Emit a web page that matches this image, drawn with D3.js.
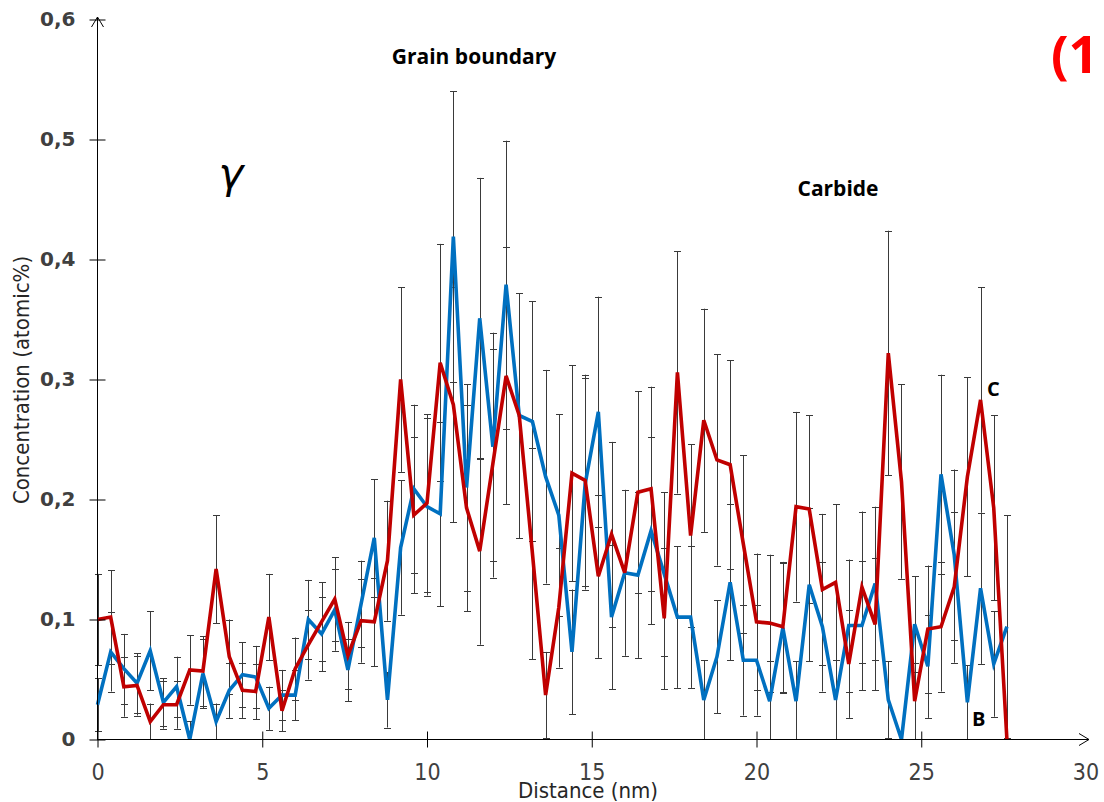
<!DOCTYPE html>
<html>
<head>
<meta charset="utf-8">
<script src="https://cdnjs.cloudflare.com/ajax/libs/d3/7.8.5/d3.min.js"></script>
<style>
  body { margin: 0; background: #fff; }
  svg { display: block; }
  .ytick text { font-family: 'DejaVu Sans', Verdana, sans-serif; font-weight: bold; font-size: 20px; fill: #404040; }
  .xtick text { font-family: 'Liberation Sans Narrow', 'DejaVu Sans Condensed', sans-serif; font-size: 23px; fill: #404040; }
  .title { font-family: 'Liberation Sans Narrow', 'DejaVu Sans Condensed', sans-serif; font-size: 22px; fill: #262626; }
  .note { font-family: 'Open Sans', 'DejaVu Sans', sans-serif; font-weight: bold; fill: #000; }
</style>
</head>
<body>
<svg id="chart" width="1104" height="802"></svg>
<script>
// distance (nm), one point every 0.4 nm
const distance = [
  0, 0.4, 0.8, 1.2, 1.6, 2, 2.4, 2.8, 3.2, 3.6, 4, 4.4, 4.8, 5.2, 5.6, 6, 6.4, 6.8, 7.2, 7.6,
  8, 8.4, 8.8, 9.2, 9.6, 10, 10.4, 10.8, 11.2, 11.6, 12, 12.4, 12.8, 13.2, 13.6, 14, 14.4, 14.8, 15.2, 15.6,
  16, 16.4, 16.8, 17.2, 17.6, 18, 18.4, 18.8, 19.2, 19.6, 20, 20.4, 20.8, 21.2, 21.6, 22, 22.4, 22.8, 23.2, 23.6,
  24, 24.4, 24.8, 25.2, 25.6, 26, 26.4, 26.8, 27.2, 27.6
];

// C (red)
const carbon = [
  0.100, 0.102, 0.044, 0.045, 0.015, 0.029, 0.029, 0.058, 0.057, 0.142, 0.069, 0.041, 0.040, 0.102, 0.024, 0.059, 0.079, 0.098, 0.117, 0.070,
  0.099, 0.098, 0.149, 0.300, 0.187, 0.197, 0.314, 0.279, 0.193, 0.157, 0.230, 0.303, 0.270, 0.155, 0.037, 0.110, 0.222, 0.216, 0.136, 0.171,
  0.139, 0.206, 0.209, 0.101, 0.306, 0.170, 0.266, 0.233, 0.229, 0.163, 0.098, 0.097, 0.094, 0.194, 0.192, 0.125, 0.131, 0.063, 0.127, 0.096,
  0.322, 0.215, 0.032, 0.092, 0.094, 0.127, 0.219, 0.283, 0.193, 0
];
const carbonErr = [
  0.038, 0.039, 0.025, 0.025, 0.015, 0.020, 0.020, 0.029, 0.029, 0.045, 0.031, 0.023, 0.023, 0.036, 0.017, 0.026, 0.029, 0.033, 0.035, 0.028,
  0.035, 0.037, 0.050, 0.077, 0.065, 0.074, 0.099, 0.098, 0.086, 0.078, 0.095, 0.107, 0.102, 0.088, 0.036, 0.050, 0.090, 0.088, 0.068, 0.077,
  0.069, 0.084, 0.085, 0.059, 0.101, 0.076, 0.093, 0.088, 0.087, 0.074, 0.057, 0.057, 0.054, 0.079, 0.078, 0.063, 0.065, 0.045, 0.063, 0.055,
  0.102, 0.081, 0.032, 0.053, 0.054, 0.063, 0.083, 0.094, 0.077, 0
];

// B (blue)
const boron = [
  0.029, 0.073, 0.059, 0.047, 0.074, 0.031, 0.044, 0.000, 0.055, 0.015, 0.041, 0.054, 0.052, 0.026, 0.037, 0.037, 0.100, 0.088, 0.108, 0.058,
  0.113, 0.168, 0.033, 0.160, 0.209, 0.194, 0.188, 0.419, 0.210, 0.351, 0.244, 0.379, 0.270, 0.265, 0.219, 0.187, 0.073, 0.213, 0.273, 0.102,
  0.139, 0.137, 0.174, 0.138, 0.102, 0.102, 0.033, 0.069, 0.131, 0.066, 0.066, 0.032, 0.093, 0.032, 0.129, 0.094, 0.033, 0.095, 0.095, 0.130,
  0.033, 0.000, 0.096, 0.061, 0.221, 0.154, 0.031, 0.126, 0.063, 0.094
];
const boronErr = [
  0.022, 0.033, 0.029, 0.025, 0.033, 0.020, 0.025, 0.015, 0.029, 0.015, 0.023, 0.027, 0.026, 0.018, 0.021, 0.021, 0.033, 0.031, 0.034, 0.026,
  0.036, 0.049, 0.023, 0.056, 0.070, 0.074, 0.077, 0.121, 0.086, 0.117, 0.095, 0.120, 0.102, 0.100, 0.089, 0.084, 0.052, 0.088, 0.096, 0.060,
  0.069, 0.069, 0.078, 0.068, 0.059, 0.059, 0.033, 0.047, 0.065, 0.046, 0.046, 0.033, 0.054, 0.033, 0.064, 0.054, 0.033, 0.055, 0.054, 0.064,
  0.032, 0.000, 0.040, 0.043, 0.083, 0.071, 0.031, 0.063, 0.044, 0.093
];

const xTicks = [0, 5, 10, 15, 20, 25, 30];
const yTicks = [0, 0.1, 0.2, 0.3, 0.4, 0.5, 0.6];

const svg = d3.select('#chart');

const x = d3.scaleLinear().domain([0, 30]).range([97.5, 1086]);
const y = d3.scaleLinear().domain([0, 0.6]).range([739.5, 19.5]);

const toComma = v => String(v).replace('.', ',');

// error bars (behind the lines)
function drawErrors(vals, errs, cls) {
  const g = svg.append('g').attr('class', cls);
  const rows = distance.map((d, i) => ({ d: d, v: vals[i], e: errs[i] })).filter(r => r.e > 0);
  const cap = 3.5;
  rows.forEach(r => {
    const cx = Math.round(x(r.d)) + 0.5;
    const lo = Math.max(0, r.v - r.e);
    const hi = r.v + r.e;
    g.append('line').attr('x1', cx).attr('x2', cx).attr('y1', y(lo)).attr('y2', y(hi));
    g.append('line').attr('x1', cx - cap).attr('x2', cx + cap).attr('y1', Math.round(y(hi)) + 0.5).attr('y2', Math.round(y(hi)) + 0.5);
    if (r.v - r.e > 0)
      g.append('line').attr('x1', cx - cap).attr('x2', cx + cap).attr('y1', Math.round(y(lo)) + 0.5).attr('y2', Math.round(y(lo)) + 0.5);
  });
  g.selectAll('line').attr('stroke', '#3a3a3a').attr('stroke-width', 1);
}
drawErrors(boron, boronErr, 'err-b');
drawErrors(carbon, carbonErr, 'err-c');

const line = d3.line().x(d => x(d[0])).y(d => y(d[1]));

svg.append('path')
   .datum(distance.map((d, i) => [d, boron[i]]))
   .attr('d', line)
   .attr('fill', 'none')
   .attr('stroke', '#0070C0')
   .attr('stroke-width', 3.6)
   .attr('stroke-linejoin', 'miter');

svg.append('path')
   .datum(distance.map((d, i) => [d, carbon[i]]))
   .attr('d', line)
   .attr('fill', 'none')
   .attr('stroke', '#C00000')
   .attr('stroke-width', 3.6)
   .attr('stroke-linejoin', 'miter');

// axes
const yAxis = d3.axisLeft(y).tickValues(yTicks).tickFormat(toComma).tickSize(8).tickPadding(14);
const gy = svg.append('g').attr('class', 'ytick').attr('transform', 'translate(97.5,0)').call(yAxis);
gy.select('.domain').remove();
gy.selectAll('.tick line').attr('x1', -8).attr('x2', 8).attr('stroke', '#000');

const xAxis = d3.axisBottom(x).tickValues(xTicks.slice(0, -1)).tickFormat(d => d).tickSize(8).tickPadding(16);
const gx = svg.append('g').attr('class', 'xtick').attr('transform', 'translate(0,739.5)').call(xAxis);
gx.select('.domain').remove();
gx.selectAll('.tick line').attr('y1', -8).attr('y2', 8).attr('stroke', '#000');
gx.append('g').attr('class', 'tick').attr('transform', 'translate(' + x(30) + ',0)')
  .append('text').attr('y', 24).attr('dy', '0.71em').attr('text-anchor', 'middle').text(xTicks[xTicks.length - 1]);

// axis lines with open arrow heads
svg.append('path')
   .attr('d', 'M97.5,740 V17 M91.5,27 L97.5,17 L103.5,27')
   .attr('fill', 'none').attr('stroke', '#000').attr('stroke-width', 1);
svg.append('path')
   .attr('d', 'M97,739.5 H1089 M1079,733.5 L1089,739.5 L1079,745.5')
   .attr('fill', 'none').attr('stroke', '#000').attr('stroke-width', 1);

// titles
svg.append('text').attr('class', 'title')
   .attr('x', 588).attr('y', 798).attr('text-anchor', 'middle')
   .text('Distance (nm)');
svg.append('text').attr('class', 'title')
   .attr('transform', 'translate(29,380) rotate(-90)').attr('text-anchor', 'middle')
   .text('Concentration (atomic%)');

// annotations
svg.append('text').attr('class', 'note').attr('x', 474).attr('y', 64)
   .attr('text-anchor', 'middle').attr('font-size', 21).text('Grain boundary');
svg.append('text').attr('class', 'note').attr('x', 838).attr('y', 196)
   .attr('text-anchor', 'middle').attr('font-size', 21).text('Carbide');
svg.append('text').attr('x', 231).attr('y', 188)
   .attr('text-anchor', 'middle').attr('font-family', "'DejaVu Sans', sans-serif")
   .attr('font-style', 'italic').attr('font-size', 42).attr('fill', '#000').text('γ');
svg.append('text').attr('class', 'note').attr('x', 1051).attr('y', 73)
   .attr('font-size', 52).style('fill', '#FF0000').text('(1');
svg.append('text').attr('class', 'note').attr('x', 987).attr('y', 396)
   .attr('font-size', 20).text('C');
svg.append('text').attr('class', 'note').attr('x', 972).attr('y', 726)
   .attr('font-size', 20).text('B');
</script>
</body>
</html>
